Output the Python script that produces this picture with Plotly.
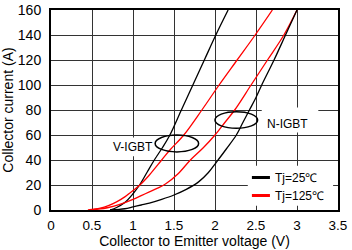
import plotly.graph_objects as go

# ---- data ----
v_igbt_25_v = [0.72, 0.8, 0.9, 1.0, 1.08, 1.17, 1.26, 1.36, 1.45, 1.59, 1.73, 1.87, 2.01, 2.16]
v_igbt_25_i = [0, 2, 6, 13, 20, 30, 40, 50, 60, 80, 100, 120, 140, 160]

v_igbt_125_v = [0.45, 0.6, 0.7, 0.8, 0.9, 1.0, 1.1, 1.2, 1.35, 1.45, 1.62, 1.84, 2.05, 2.27, 2.49, 2.70]
v_igbt_125_i = [0, 1.5, 3.5, 6.5, 10.5, 15.5, 21, 28, 40, 48, 60, 80, 100, 120, 140, 160]

n_igbt_125_v = [0.5, 0.7, 0.84, 1.0, 1.1, 1.2, 1.3, 1.4, 1.55, 1.70, 1.86, 2.0, 2.12, 2.24, 2.44, 2.64, 2.84, 3.0]
n_igbt_125_i = [0, 2, 4.5, 8.5, 11.5, 14.5, 17.5, 21, 29, 40, 50, 60, 70, 80, 100, 120, 140, 160]

n_igbt_25_v = [0.72, 0.9, 1.0, 1.1, 1.2, 1.35, 1.5, 1.65, 1.8, 1.92, 2.02, 2.14, 2.26, 2.34, 2.42, 2.50, 2.57, 2.72, 2.86, 3.0]
n_igbt_25_i = [0, 1, 2.5, 4, 5.5, 8.5, 12, 16.5, 22.5, 30, 38.5, 49, 60, 70, 80, 90, 100, 120, 140, 160]

x_ticks = [0, 0.5, 1, 1.5, 2, 2.5, 3, 3.5]
x_tick_labels = ["0", "0.5", "1", "1.5", "2", "2.5", "3", "3.5"]
y_ticks = [0, 20, 40, 60, 80, 100, 120, 140, 160]

legend_labels = ["Tj=25\u2103", "Tj=125\u2103"]
curve_labels = ["V-IGBT", "N-IGBT"]

FONT = "Liberation Sans, Arial, sans-serif"

fig = go.Figure()
line_w = 1.3
fig.add_trace(go.Scatter(x=v_igbt_25_v, y=v_igbt_25_i, mode="lines",
                         line=dict(color="black", width=line_w, shape="spline"), showlegend=False))
fig.add_trace(go.Scatter(x=v_igbt_125_v, y=v_igbt_125_i, mode="lines",
                         line=dict(color="#ff0000", width=line_w, shape="spline"), showlegend=False))
fig.add_trace(go.Scatter(x=n_igbt_125_v, y=n_igbt_125_i, mode="lines",
                         line=dict(color="#ff0000", width=line_w, shape="spline"), showlegend=False))
fig.add_trace(go.Scatter(x=n_igbt_25_v, y=n_igbt_25_i, mode="lines",
                         line=dict(color="black", width=line_w, shape="spline"), showlegend=False))

shapes = []
# white boxes behind labels / legend (hide grid)
shapes.append(dict(type="rect", xref="x", yref="y", x0=0.72, x1=1.28, y0=43, y1=58,
                   fillcolor="white", line=dict(width=0), layer="above"))
shapes.append(dict(type="rect", xref="x", yref="y", x0=2.57, x1=3.26, y0=62, y1=82,
                   fillcolor="white", line=dict(width=0), layer="above"))
shapes.append(dict(type="rect", xref="x", yref="y", x0=2.40, x1=3.44, y0=3.5, y1=35.5,
                   fillcolor="white", line=dict(width=0), layer="above"))
# ellipses
shapes.append(dict(type="circle", xref="x", yref="y", x0=1.27, x1=1.80, y0=46.5, y1=60,
                   line=dict(color="black", width=1.5), layer="above"))
shapes.append(dict(type="circle", xref="x", yref="y", x0=2.0, x1=2.52, y0=65.4, y1=78.6,
                   line=dict(color="black", width=1.5), layer="above"))
# legend sample lines
shapes.append(dict(type="line", xref="x", yref="y", x0=2.45, x1=2.67, y0=26, y1=26,
                   line=dict(color="black", width=3), layer="above"))
shapes.append(dict(type="line", xref="x", yref="y", x0=2.45, x1=2.67, y0=11.6, y1=11.6,
                   line=dict(color="#ff0000", width=3), layer="above"))

annotations = [
    dict(x=1.0, y=50.2, xref="x", yref="y", text=curve_labels[0], showarrow=False,
         font=dict(family=FONT, size=12, color="black")),
    dict(x=2.89, y=68.5, xref="x", yref="y", text=curve_labels[1], showarrow=False,
         font=dict(family=FONT, size=12, color="black")),
    dict(x=2.71, y=26, xref="x", yref="y", text=legend_labels[0], showarrow=False,
         xanchor="left", font=dict(family=FONT, size=12, color="black")),
    dict(x=2.71, y=11.6, xref="x", yref="y", text=legend_labels[1], showarrow=False,
         xanchor="left", font=dict(family=FONT, size=12, color="black")),
]

fig.update_layout(
    width=352, height=250,
    margin=dict(l=51, r=14, t=10, b=40, autoexpand=False),
    paper_bgcolor="white", plot_bgcolor="white",
    font=dict(family=FONT, size=14, color="black"),
    shapes=shapes, annotations=annotations,
    showlegend=False,
)
fig.update_xaxes(
    range=[0, 3.5], tickvals=x_ticks, ticktext=x_tick_labels,
    showgrid=True, gridcolor="#333333", gridwidth=1.2,
    showline=True, linecolor="black", linewidth=2, mirror=True,
    ticks="outside", ticklen=2, tickcolor="rgba(0,0,0,0)",
    tickfont=dict(size=13.5),
    zeroline=False, fixedrange=True, automargin=False,
    title=dict(text="Collector to Emitter voltage (V)", font=dict(size=14), standoff=3),
)
fig.update_yaxes(
    range=[0, 160], tickvals=y_ticks,
    showgrid=True, gridcolor="#333333", gridwidth=1.2,
    showline=True, linecolor="black", linewidth=2, mirror=True,
    ticks="outside", ticklen=5, tickcolor="rgba(0,0,0,0)",
    zeroline=False, fixedrange=True, automargin=False,
    title=dict(text="Collector current (A)", font=dict(size=14), standoff=2),
)

fig.write_html("out.html", config=dict(displayModeBar=False),
               post_script="document.body.style.margin='0px';document.body.style.overflow='hidden';")
